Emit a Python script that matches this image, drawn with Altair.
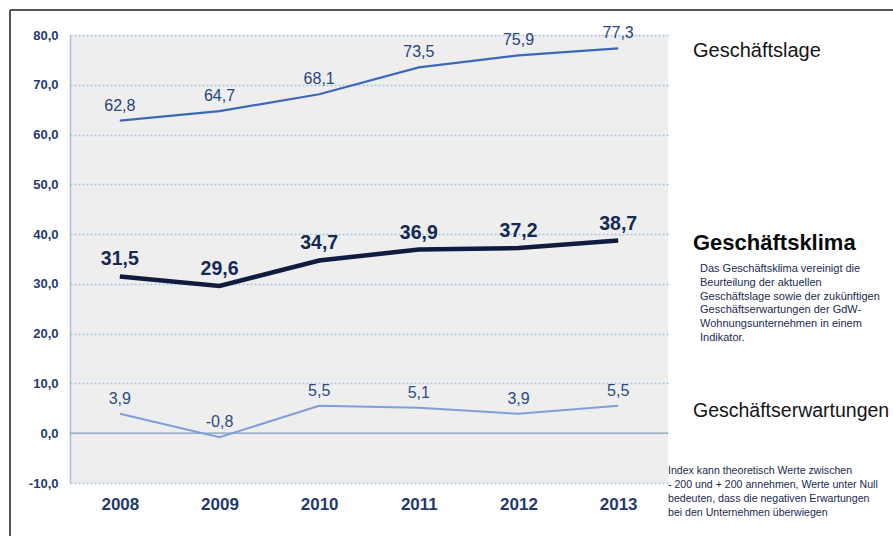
import altair as alt
import pandas as pd

years = ["2008", "2009", "2010", "2011", "2012", "2013"]
lage = [62.8, 64.7, 68.1, 73.5, 75.9, 77.3]
klima = [31.5, 29.6, 34.7, 36.9, 37.2, 38.7]
erwartungen = [3.9, -0.8, 5.5, 5.1, 3.9, 5.5]

rows = []
for name, vals in [("Lage", lage), ("Klima", klima), ("Erw", erwartungen)]:
    for y, v in zip(years, vals):
        rows.append({"year": y, "value": v, "series": name})
df = pd.DataFrame(rows)

FONT = "Liberation Sans"
NAVY = "#1f3a6e"
FMT = "replace(replace(format(datum.value, '.1f'), '.', ','), '\u2212', '-')"

x_enc = alt.X("year:N", title=None, sort=years,
              scale=alt.Scale(paddingInner=0, paddingOuter=0),
              axis=alt.Axis(domain=False, ticks=False, labelAngle=0, labelFont=FONT,
                            labelFontSize=17, labelFontWeight="bold", labelColor=NAVY,
                            labelPadding=13, grid=False))
y_enc = alt.Y("value:Q", title=None,
              scale=alt.Scale(domain=[-10, 80], nice=False, zero=False),
              axis=alt.Axis(values=list(range(-10, 81, 10)), ticks=False,
                            domain=True, domainColor="#a9bfd3", domainWidth=1.5,
                            labelFont=FONT, labelFontSize=13, labelFontWeight="bold",
                            labelColor=NAVY, labelPadding=12,
                            labelExpr=FMT,
                            grid=True, gridColor="#a3c8dc", gridDash=[2, 2], gridWidth=1.3))

base = alt.Chart(df).transform_calculate(lbl=FMT)

zero_line = alt.Chart(pd.DataFrame({"v": [0]})).mark_rule(color="#8aa4bf", strokeWidth=1.2).encode(y="v:Q")

line_lage = base.transform_filter("datum.series == 'Lage'").mark_line(
    color="#3f67b8", strokeWidth=2.2).encode(x=x_enc, y=y_enc)
line_klima = base.transform_filter("datum.series == 'Klima'").mark_line(
    color="#0f1c3f", strokeWidth=4.5).encode(x=x_enc, y=y_enc)
line_erw = base.transform_filter("datum.series == 'Erw'").mark_line(
    color="#7f9fd8", strokeWidth=2).encode(x=x_enc, y=y_enc)

txt_lage = base.transform_filter("datum.series == 'Lage'").mark_text(
    font=FONT, fontSize=16, color="#25467e", dy=-15).encode(x="year:N", y="value:Q", text="lbl:N")
txt_klima = base.transform_filter("datum.series == 'Klima'").mark_text(
    font=FONT, fontSize=19.5, fontWeight="bold", color="#142a55", dy=-17).encode(x="year:N", y="value:Q", text="lbl:N")
txt_erw = base.transform_filter("datum.series == 'Erw'").mark_text(
    font=FONT, fontSize=16, color="#2b4b82", dy=-15).encode(x="year:N", y="value:Q", text="lbl:N")

# Frame lines
frame_left = alt.Chart(pd.DataFrame({"a": [0]})).mark_rule(color="#555555", strokeWidth=2).encode(
    x=alt.value(-60), y=alt.value(-25), y2=alt.value(520))
frame_top = alt.Chart(pd.DataFrame({"a": [0]})).mark_rule(color="#555555", strokeWidth=2).encode(
    x=alt.value(-60), x2=alt.value(840), y=alt.value(-25))

def label(text, x, y, size, weight="normal", color="#151515", align="left"):
    return alt.Chart(pd.DataFrame({"t": [text]})).mark_text(
        font=FONT, fontSize=size, fontWeight=weight, color=color, align=align, baseline="middle"
    ).encode(x=alt.value(x), y=alt.value(y), text="t:N")

desc_lines = [
    "Das Geschäftsklima vereinigt die",
    "Beurteilung der aktuellen",
    "Geschäftslage sowie der zukünftigen",
    "Geschäftserwartungen der GdW-",
    "Wohnungsunternehmen in einem",
    "Indikator.",
]
index_lines = [
    "Index kann theoretisch Werte zwischen",
    "- 200 und + 200 annehmen, Werte unter Null",
    "bedeuten, dass die negativen Erwartungen",
    "bei den Unternehmen überwiegen",
]

annots = [
    label("Geschäftslage", 623, 16, 20),
    label("Geschäftsklima", 623, 208, 22, "bold", "#0a0a0a"),
    label("Geschäftserwartungen", 623, 376, 19.5),
]
for i, t in enumerate(desc_lines):
    annots.append(label(t, 630, 234 + i * 13.8, 11, "normal", "#1a2a50"))
for i, t in enumerate(index_lines):
    annots.append(label(t, 598, 436 + i * 14, 10.6, "normal", "#1a2a50"))

chart = alt.layer(
    frame_left, frame_top, zero_line, line_erw, line_lage, line_klima, txt_lage, txt_klima, txt_erw, *annots
).properties(
    width=598, height=448,
    autosize=alt.AutoSizeParams(type="none"),
    padding={"left": 70, "top": 35, "right": 225, "bottom": 53},
    background="white",
).configure_view(
    fill="#eeeeee", stroke=None
)

chart.save("out.html", embed_options={"renderer": "svg", "actions": False})
